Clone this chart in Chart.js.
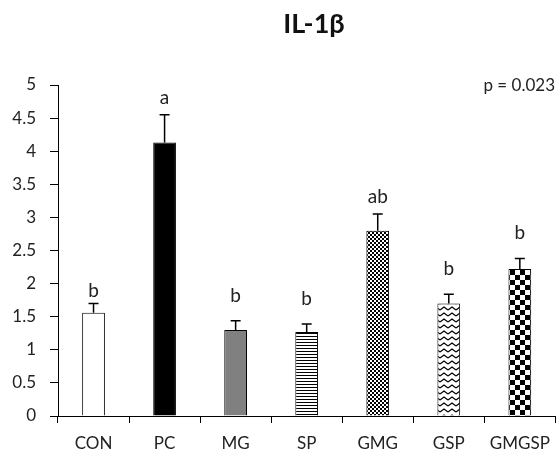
<!DOCTYPE html>
<html>
<head>
<meta charset="utf-8">
<script src="https://cdn.jsdelivr.net/npm/chart.js@4/dist/chart.umd.min.js"></script>
<style>
html,body{margin:0;padding:0;background:#fff;}
#wrap{width:560px;height:457px;position:relative;}
</style>
</head>
<body>
<div id="wrap"><canvas id="c" width="560" height="457"></canvas></div>
<script>
const categories = ["CON", "PC", "MG", "SP", "GMG", "GSP", "GMGSP"];
const means = [1.56, 4.13, 1.30, 1.27, 2.80, 1.70, 2.22];
const errors = [0.14, 0.42, 0.14, 0.12, 0.25, 0.14, 0.16];
const letters = ["b", "a", "b", "b", "ab", "b", "b"];
const letterAt = [1.80, 4.72, 1.72, 1.67, 3.21, 2.13, 2.68];
const yTicks = [0, 0.5, 1, 1.5, 2, 2.5, 3, 3.5, 4, 4.5, 5];
const titleText = "IL-1β";
const pText = "p = 0.023";

function makePattern(w, h, draw) {
  const c = document.createElement('canvas');
  c.width = w; c.height = h;
  const g = c.getContext('2d');
  g.fillStyle = '#fff'; g.fillRect(0, 0, w, h);
  g.fillStyle = '#000'; g.strokeStyle = '#000';
  draw(g);
  return document.getElementById('c').getContext('2d').createPattern(c, 'repeat');
}
const pHoriz = makePattern(3, 3, g => { g.fillRect(0, 0, 3, 1); });
const pFine2 = makePattern(4, 4, g => { g.fillRect(0, 0, 2, 2); g.fillRect(2, 2, 2, 2); });
const pZig = makePattern(8, 6, g => {
  g.lineWidth = 1.2;
  g.beginPath(); g.moveTo(0, 4); g.lineTo(4, 1); g.lineTo(8, 4); g.stroke();
});
const pChecker = makePattern(10, 10, g => { g.fillRect(0, 0, 5, 5); g.fillRect(5, 5, 5, 5); });

const fills = ['#ffffff', '#000000', '#808080', pHoriz, pFine2, pZig, pChecker];

const FONT = 'Lato, "Open Sans", sans-serif';

const overlay = {
  id: 'overlay',
  afterDatasetsDraw(chart) {
    const ctx = chart.ctx;
    const x = chart.scales.x, y = chart.scales.y;
    ctx.save();
    ctx.strokeStyle = '#000';
    ctx.lineWidth = 1.5;
    categories.forEach((cat, i) => {
      const cx = x.getPixelForValue(i);
      const top = y.getPixelForValue(means[i]);
      const et = y.getPixelForValue(means[i] + errors[i]);
      ctx.beginPath();
      ctx.moveTo(cx, top); ctx.lineTo(cx, et);
      ctx.moveTo(cx - 5, et); ctx.lineTo(cx + 5, et);
      ctx.stroke();
      ctx.fillStyle = '#222';
      ctx.font = '19px ' + FONT;
      ctx.textAlign = 'center';
      ctx.textBaseline = 'alphabetic';
      ctx.fillText(letters[i], cx, y.getPixelForValue(letterAt[i]));
    });
    ctx.fillStyle = '#111';
    ctx.font = 'bold 27px ' + FONT;
    ctx.textAlign = 'center';
    ctx.textBaseline = 'middle';
    ctx.fillText(titleText, 314, 24);
    ctx.fillStyle = '#222';
    ctx.font = '17px ' + FONT;
    ctx.textAlign = 'right';
    ctx.fillText(pText, 555, 86);
    ctx.restore();
  }
};

new Chart(document.getElementById('c'), {
  type: 'bar',
  data: {
    labels: categories,
    datasets: [{
      data: means,
      backgroundColor: fills,
      borderColor: '#000',
      borderWidth: 1,
      barPercentage: 0.32,
      categoryPercentage: 1.0
    }]
  },
  options: {
    responsive: false,
    animation: false,
    devicePixelRatio: 1,
    layout: { padding: { top: 85, right: 2, left: 0, bottom: 0 } },
    plugins: { legend: { display: false }, tooltip: { enabled: false }, title: { display: false } },
    scales: {
      x: {
        grid: { display: true, drawOnChartArea: false, offset: true, tickLength: 7, color: '#000', lineWidth: 1 },
        border: { display: true, color: '#000', width: 1 },
        ticks: { color: '#222', font: { family: FONT, size: 17 }, padding: 10, maxRotation: 0, autoSkip: false },
        afterFit(s) { s.height = 41; }
      },
      y: {
        min: 0, max: 5,
        afterBuildTicks(s) { s.ticks = yTicks.map(v => ({ value: v })); },
        grid: { display: true, drawOnChartArea: false, tickLength: 8, color: '#000', lineWidth: 1 },
        border: { display: true, color: '#000', width: 1 },
        ticks: { color: '#222', font: { family: FONT, size: 17 }, padding: 14, callback: v => String(v) },
        afterFit(s) { s.width = 58; }
      }
    }
  },
  plugins: [overlay]
});
</script>
</body>
</html>
